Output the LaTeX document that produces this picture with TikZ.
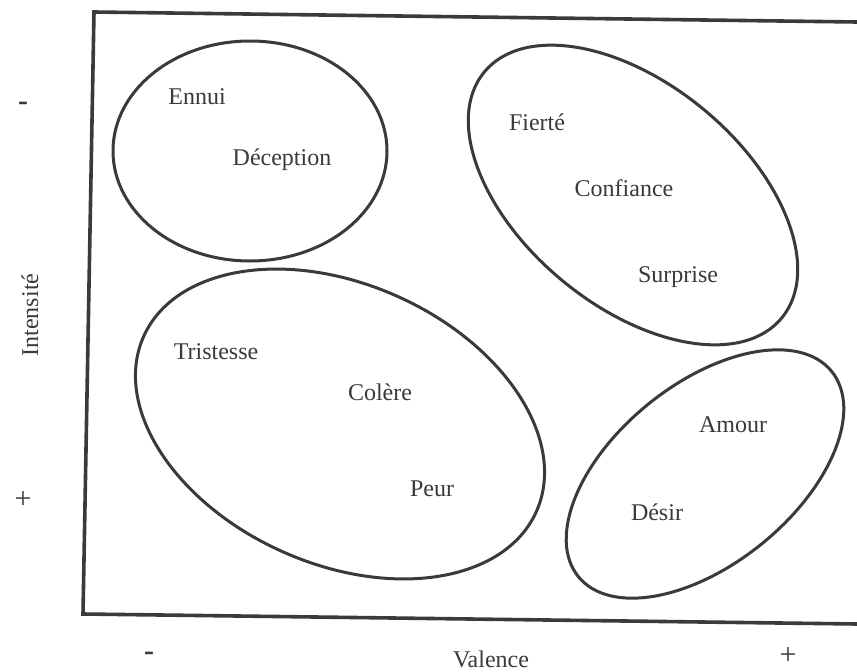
\documentclass[tikz,border=0pt]{standalone}
\usepackage{fontspec}
\setmainfont{Liberation Serif}
\definecolor{ink}{HTML}{3A3A3A}
\begin{document}
\begin{tikzpicture}[x=1pt,y=-1pt,
  lbl/.style={text=ink,font=\fontsize{24}{28}\selectfont,inner sep=0pt,anchor=center},
  sgn/.style={text=ink,font=\fontsize{30}{34}\selectfont,inner sep=0pt,anchor=center},
  frameline/.style={draw=ink,line width=3.6pt,line join=miter},
  blob/.style={draw=ink,line width=3pt}]
\useasboundingbox[fill=white] (0,0) rectangle (857,672);
% frame
\coordinate (tr) at (857,22);
\coordinate (tl) at (94,12);
\coordinate (bl) at (83,614);
\coordinate (br) at (857,624);
\draw[frameline] (tr) -- (tl) -- (bl) -- (br);
% ellipses
\draw[blob] (250,151) ellipse [x radius=137pt, y radius=110pt];
\draw[blob,rotate around={-39.6:(633,195)}] (633,195) ellipse [x radius=193pt, y radius=111pt];
\draw[blob,rotate around={-24:(340,424)}] (340,424) ellipse [x radius=215pt, y radius=140pt];
\draw[blob,rotate around={39:(705,474)}] (705,474) ellipse [x radius=163pt, y radius=90pt];
% labels
\node[lbl] (ennui) at (197,97) {Ennui};
\node[lbl] (decep) at (282,160) {Déception};
\node[lbl] (fierte) at (537,122) {Fierté};
\node[lbl] (conf) at (624,188) {Confiance};
\node[lbl] (surp) at (678,277) {Surprise};
\node[lbl] (trist) at (216,352) {Tristesse};
\node[lbl] (colere) at (380,392) {Colère};
\node[lbl] (peur) at (432,489) {Peur};
\node[lbl] (amour) at (733,425) {Amour};
\node[lbl] (desir) at (657,512) {Désir};
% axes
\node[lbl,rotate=90] (intens) at (30,315) {Intensité};
\node[lbl] (valence) at (491,659) {Valence};
\node[sgn] (imin) at (23,106) {\textbf{-}};
\node[sgn] (iplus) at (23,500) {+};
\node[sgn] (vmin) at (149,656) {\textbf{-}};
\node[sgn] (vplus) at (788,656) {+};
\end{tikzpicture}
\end{document}
